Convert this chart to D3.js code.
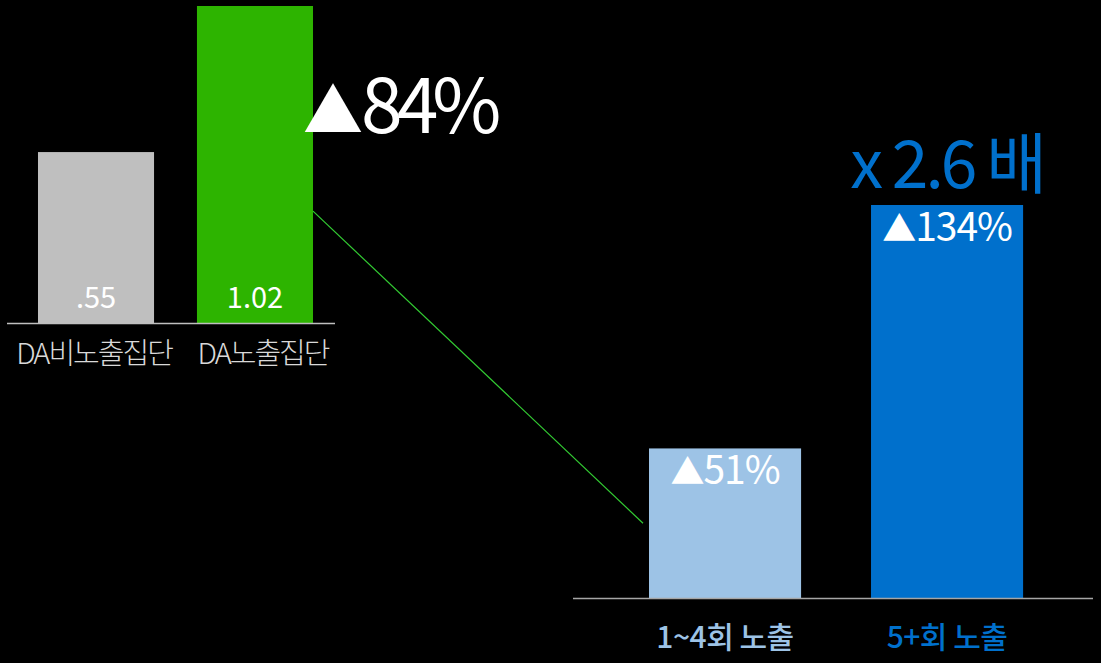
<!DOCTYPE html>
<html>
<head>
<meta charset="utf-8">
<script src="https://cdn.jsdelivr.net/npm/d3@7"></script>
<style>
  body { margin: 0; background: #000; }
  svg { display: block; font-family: "Noto Sans CJK KR", "Noto Sans", sans-serif; }
</style>
</head>
<body>
<svg id="chart" width="1101" height="663"></svg>
<script>
var width = 1101;
var height = 663;

// left chart: DA exposure groups
var leftCats = ["DA비노출집단", "DA노출집단"];
var leftValues = [0.55, 1.02];
var leftLabels = [".55", "1.02"];
var leftColors = ["#bfbfbf", "#2db400"];
var leftLift = "84%";

// right chart: increase by exposure frequency
var rightCats = ["1~4회 노출", "5+회 노출"];
var rightValues = [51, 134];
var rightLabels = ["51%", "134%"];
var rightColors = ["#9dc3e6", "#0070cc"];
var rightRatio = "x 2.6 배";

var svg = d3.select("#chart");
svg.append("rect").attr("width", width).attr("height", height).attr("fill", "#000");

// ---- left chart ----
var xL = d3.scaleBand().domain(leftCats).range([20.5, 330.5]).paddingInner(0.27).paddingOuter(0.11);
var yL = d3.scaleLinear().domain([0, 1.02]).range([323, 6]);

var gL = svg.append("g");
gL.selectAll("rect.bar")
  .data(leftValues)
  .enter().append("rect")
    .attr("class", "bar")
    .attr("x", function(d, i) { return xL(leftCats[i]); })
    .attr("width", xL.bandwidth())
    .attr("y", function(d) { return yL(d); })
    .attr("height", function(d) { return yL(0) - yL(d); })
    .attr("fill", function(d, i) { return leftColors[i]; });

gL.append("line")
  .attr("x1", 7).attr("x2", 335)
  .attr("y1", yL(0) + 0.5).attr("y2", yL(0) + 0.5)
  .attr("stroke", "#bfbfbf").attr("stroke-width", 1.5);

gL.selectAll("text.val")
  .data(leftLabels)
  .enter().append("text")
    .attr("class", "val")
    .attr("x", function(d, i) { return xL(leftCats[i]) + xL.bandwidth() / 2; })
    .attr("y", yL(0) - 15)
    .attr("text-anchor", "middle")
    .attr("fill", "#fff")
    .style("font-size", "29px")
    .text(function(d) { return d; });

gL.selectAll("text.cat")
  .data(leftCats)
  .enter().append("text")
    .attr("class", "cat")
    .attr("x", function(d, i) { return xL(d) + xL.bandwidth() / 2 + (i ? 8 : -2); })
    .attr("y", yL(0) + 41)
    .attr("text-anchor", "middle")
    .attr("fill", "#d9d9d9")
    .style("font-size", "29px")
    .style("font-weight", 300)
    .style("letter-spacing", "-2px")
    .text(function(d) { return d; });

var lift = gL.append("text")
  .attr("x", xL(leftCats[1]) + xL.bandwidth() - 10)
  .attr("y", yL(1.02) + 127)
  .attr("fill", "#fff")
  .style("font-size", "75px")
  .style("letter-spacing", "-6px");
lift.append("tspan").style("font-size", "60px").style("letter-spacing", "-2px").text("▲");
lift.append("tspan").text(leftLift);

// ---- right chart ----
var xR = d3.scaleBand().domain(rightCats).range([582.4, 1089.7]).paddingInner(0.315).paddingOuter(0.3);
var yR = d3.scaleLinear().domain([0, 134]).range([598, 205]);

var gR = svg.append("g");

// connector from the exposed group to the breakdown
gR.append("line")
  .attr("x1", xL(leftCats[1]) + xL.bandwidth())
  .attr("y1", yL(0.36))
  .attr("x2", xR(rightCats[0]) - 6)
  .attr("y2", yR(25.5))
  .attr("stroke", "#33cc33")
  .attr("stroke-width", 1.2);

gR.selectAll("rect.bar")
  .data(rightValues)
  .enter().append("rect")
    .attr("class", "bar")
    .attr("x", function(d, i) { return xR(rightCats[i]); })
    .attr("width", xR.bandwidth())
    .attr("y", function(d) { return yR(d); })
    .attr("height", function(d) { return yR(0) - yR(d); })
    .attr("fill", function(d, i) { return rightColors[i]; });

gR.append("line")
  .attr("x1", 573).attr("x2", 1093)
  .attr("y1", yR(0) + 0.5).attr("y2", yR(0) + 0.5)
  .attr("stroke", "#a6a6a6").attr("stroke-width", 1.5);

var vals = gR.selectAll("text.val")
  .data(rightLabels)
  .enter().append("text")
    .attr("class", "val")
    .attr("x", function(d, i) { return xR(rightCats[i]) + xR.bandwidth() / 2; })
    .attr("y", function(d, i) { return yR(rightValues[i]) + 36; })
    .attr("text-anchor", "middle")
    .attr("fill", "#fff")
    .style("font-size", "39px")
    .style("letter-spacing", "-1px");
vals.append("tspan").style("font-size", "34px").text("▲");
vals.append("tspan").text(function(d) { return d; });

gR.selectAll("text.cat")
  .data(rightCats)
  .enter().append("text")
    .attr("class", "cat")
    .attr("x", function(d) { return xR(d) + xR.bandwidth() / 2; })
    .attr("y", yR(0) + 50)
    .attr("text-anchor", "middle")
    .attr("fill", function(d, i) { return rightColors[i]; })
    .style("font-size", "30px")
    .style("font-weight", 500)
    .style("letter-spacing", "-0.5px")
    .text(function(d) { return d; });

gR.append("text")
  .attr("x", xR(rightCats[1]) + xR.bandwidth() / 2)
  .attr("y", yR(134) - 17)
  .attr("text-anchor", "middle")
  .attr("fill", rightColors[1])
  .style("font-size", "66px")
  .style("letter-spacing", "-3px")
  .text(rightRatio);
</script>
</body>
</html>
